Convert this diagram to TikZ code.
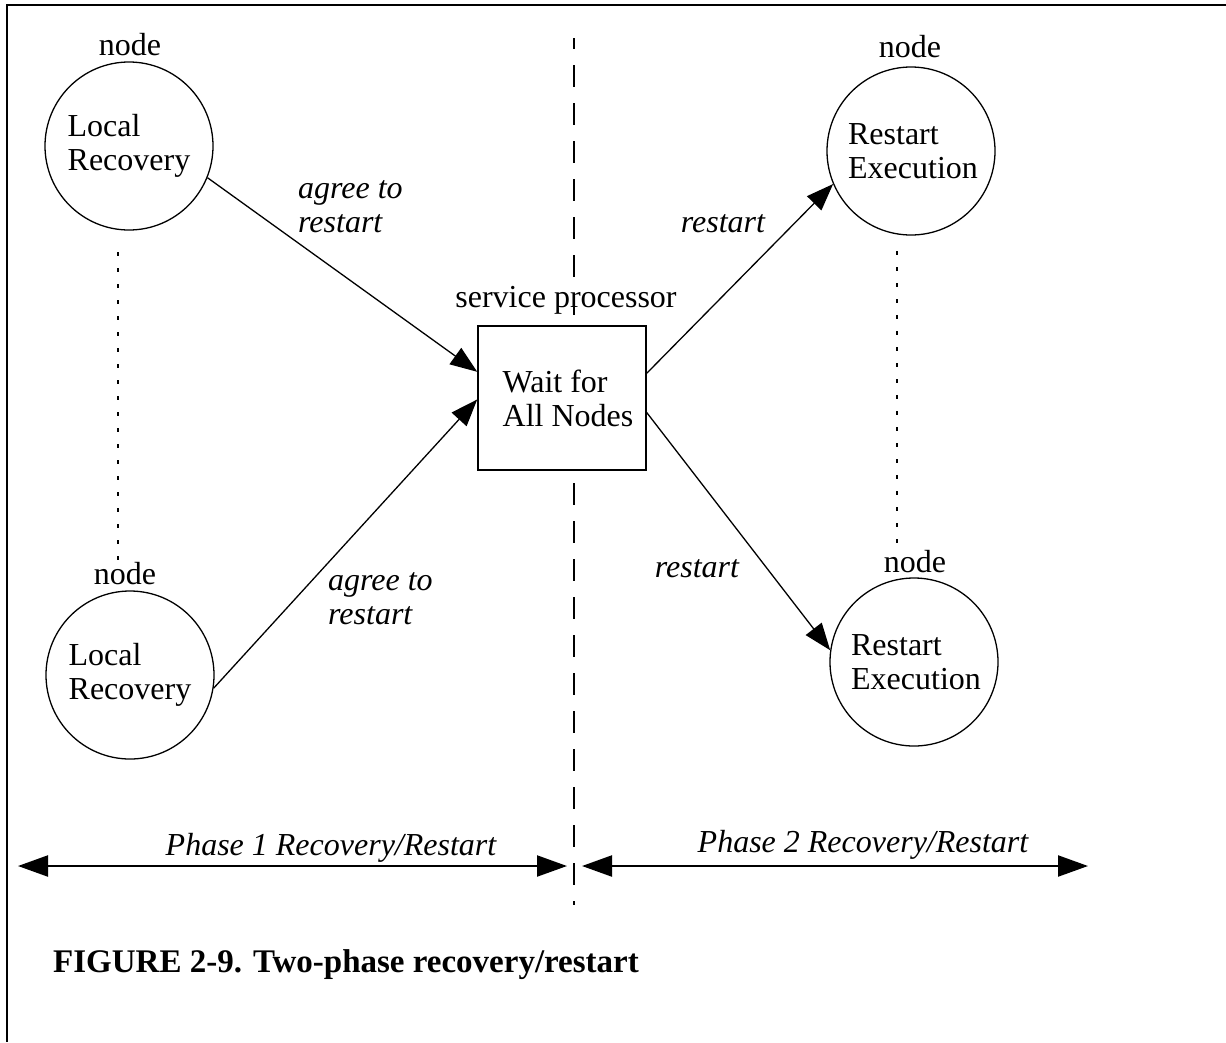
\documentclass[tikz,border=0pt]{standalone}
\usepackage{fontspec}
\setmainfont{Liberation Serif}
\usetikzlibrary{arrows.meta,calc}
\begin{document}
\begin{tikzpicture}[x=1pt,y=-1pt,
  txt/.style={inner sep=0pt, font=\fontsize{32}{34}\selectfont},
  itxt/.style={inner sep=0pt, align=left, font=\fontsize{32}{34}\selectfont\itshape},
  proc/.style={circle, draw, line width=1.3pt, minimum size=168pt, inner sep=0pt,
               align=left, font=\fontsize{32}{34}\selectfont},
  waitbox/.style={rectangle, draw, line width=1.5pt, minimum width=168pt,
               minimum height=144pt, inner sep=0pt, align=left,
               font=\fontsize{32}{34}\selectfont},
  flow/.style={-{Triangle[length=27pt,width=20pt]}, line width=1.3pt},
  phasearrow/.style={{Triangle[length=30pt,width=21pt]}-{Triangle[length=30pt,width=21pt]}, line width=2.2pt},
  divider/.style={line width=1.8pt, dash pattern=on 22pt off 16pt, dash phase=11pt},
  link/.style={line width=2pt, dash pattern=on 4pt off 12pt}
]
\useasboundingbox (0,0) rectangle (1226,1042);

% frame
\coordinate (ftl) at (7,5);
\coordinate (ftr) at (1226,5);
\coordinate (fbl) at (7,1042);
\draw[line width=2pt] (ftr) -- (ftl) -- (fbl);

% phase divider
\coordinate (dtop) at (574,38);
\coordinate (dbot) at (574,905);
\draw[divider] (dtop) -- (dbot);

% process nodes
\node[proc] (lr1) at (129,146) {Local\\Recovery};
\node[proc] (lr2) at (130,675) {Local\\Recovery};
\node[proc] (re1) at (911,151) {\hspace*{4pt}Restart\\\hspace*{4pt}Execution};
\node[proc] (re2) at (914,662) {\hspace*{4pt}Restart\\\hspace*{4pt}Execution};
\node[waitbox, fill=white] (wait) at (562,398) {\hspace*{12pt}Wait for\\\hspace*{12pt}All Nodes};

% role labels
\node[txt] (n1) at (130,45) {node};
\node[txt] (n2) at (125,574) {node};
\node[txt] (n3) at (910,47) {node};
\node[txt] (n4) at (915,562) {node};
\node[txt] (sp) at (566,300) {service processor};

% dotted links between peer nodes
\coordinate (a1) at (118,252);
\coordinate (a2) at (118,566);
\coordinate (b1) at (897,251);
\coordinate (b2) at (897,548);
\draw[link] (a1) -- (a2);
\draw[link] (b1) -- (b2);

% message arrows
\draw[flow] (lr1.-22) -- ($(wait.north west)!0.32!(wait.south west)$);
\draw[flow] (lr2.-9) -- ($(wait.north west)!0.51!(wait.south west)$);
\draw[flow] ($(wait.north east)!0.33!(wait.south east)$) -- (re1.203);
\draw[flow] ($(wait.north east)!0.60!(wait.south east)$) -- (re2.172);

% arrow labels (anchored on the baseline of the last line)
\node[itxt, anchor=base west] (l1) at (298,232) {agree to\\restart};
\node[itxt, anchor=base west] (l2) at (328,624) {agree to\\restart};
\node[itxt, anchor=base] (l3) at (723,232) {restart};
\node[itxt, anchor=base] (l4) at (697,577) {restart};

% phase spans
\coordinate (p1l) at (18,866);
\coordinate (p1r) at (567,866);
\coordinate (p2l) at (582,866);
\coordinate (p2r) at (1088,866);
\draw[phasearrow] (p1l) -- (p1r);
\draw[phasearrow] (p2l) -- (p2r);
\node[itxt, anchor=base] (ph1) at (331,855) {Phase 1 Recovery/Restart};
\node[itxt, anchor=base] (ph2) at (863,852) {Phase 2 Recovery/Restart};

% caption
\node[txt, anchor=base west, font=\fontsize{33}{35}\selectfont\bfseries] (cap) at (53,972)
  {FIGURE 2-9. Two-phase recovery/restart};
\end{tikzpicture}
\end{document}
